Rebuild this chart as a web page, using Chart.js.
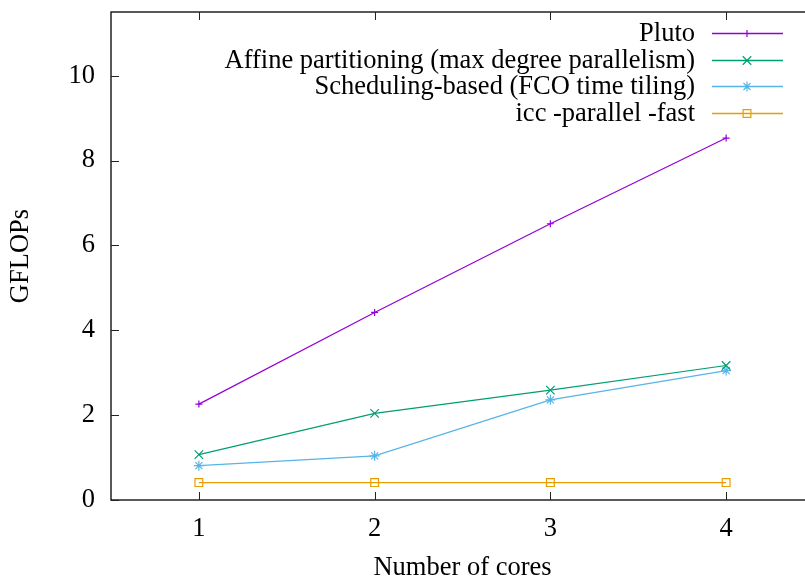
<!DOCTYPE html>
<html>
<head>
<meta charset="utf-8">
<script src="https://cdn.jsdelivr.net/npm/chart.js@4"></script>
<style>
  html, body { margin: 0; padding: 0; background: #fff; overflow: hidden; }
  canvas { display: block; }
</style>
</head>
<body>
<canvas id="grafico" width="830" height="581"></canvas>
<script>
// Dados do gráfico
const cores = [1, 2, 3, 4];
const pluto = [2.26, 4.42, 6.51, 8.53];
const affine = [1.07, 2.04, 2.59, 3.17];
const scheduling = [0.81, 1.04, 2.36, 3.05];
const icc = [0.41, 0.41, 0.41, 0.41];
const seriesNames = [
  'Pluto',
  'Affine partitioning (max degree parallelism)',
  'Scheduling-based (FCO time tiling)',
  'icc -parallel -fast'
];
const xTicks = [1, 2, 3, 4];
const yTicks = [0, 2, 4, 6, 8, 10];

const FONT = "'Liberation Serif', 'Times New Roman', serif";
const FSIZE = 26.5;

function pontos(vals) {
  return cores.map((c, i) => ({ x: c, y: vals[i] }));
}

function serie(label, vals, color, style, radius) {
  return {
    label: label,
    data: pontos(vals),
    borderColor: color,
    backgroundColor: 'rgba(0,0,0,0)',
    borderWidth: 1.2,
    pointStyle: style,
    pointRadius: radius,
    pointBorderColor: color,
    pointBackgroundColor: 'rgba(0,0,0,0)',
    pointBorderWidth: 1.2,
    pointHoverRadius: radius,
    fill: false,
    tension: 0
  };
}

// Plugin para desenhar moldura, ticks internos e legenda no estilo gnuplot
const estiloGnuplot = {
  id: 'estiloGnuplot',
  afterDraw(chart) {
    const ctx = chart.ctx;
    const a = chart.chartArea;
    const xs = chart.scales.x;
    const ys = chart.scales.y;
    ctx.save();
    ctx.strokeStyle = '#000';
    ctx.lineWidth = 1.3;
    ctx.strokeRect(a.left, a.top, a.right - a.left, a.bottom - a.top);

    ctx.lineWidth = 1;
    ctx.strokeStyle = '#222';
    xTicks.forEach(v => {
      const px = Math.round(xs.getPixelForValue(v)) + 0.5;
      ctx.beginPath();
      ctx.moveTo(px, a.bottom); ctx.lineTo(px, a.bottom - 8);
      ctx.moveTo(px, a.top); ctx.lineTo(px, a.top + 8);
      ctx.stroke();
    });
    yTicks.forEach(v => {
      const py = Math.round(ys.getPixelForValue(v)) + 0.5;
      ctx.beginPath();
      ctx.moveTo(a.left, py); ctx.lineTo(a.left + 8, py);
      ctx.moveTo(a.right, py); ctx.lineTo(a.right - 8, py);
      ctx.stroke();
    });

    // Legenda
    ctx.font = FSIZE + 'px ' + FONT;
    ctx.textAlign = 'right';
    ctx.textBaseline = 'middle';
    chart.data.datasets.forEach((ds, i) => {
      const y = Math.round(33 + i * 26.5) + 0.5;
      ctx.fillStyle = '#000';
      ctx.fillText(ds.label, 695, y + 1);
      ctx.strokeStyle = ds.borderColor;
      ctx.lineWidth = 1.5;
      ctx.beginPath();
      ctx.moveTo(712, y);
      ctx.lineTo(783, y);
      ctx.stroke();
      ctx.fillStyle = 'rgba(0,0,0,0)';
      ctx.strokeStyle = ds.borderColor;
      ctx.lineWidth = 1.2;
      Chart.helpers.drawPoint(ctx, {
        pointStyle: ds.pointStyle,
        radius: ds.pointRadius,
        rotation: 0,
        borderWidth: 1.2
      }, 747, y);
    });
    ctx.restore();
  }
};

new Chart(document.getElementById('grafico').getContext('2d'), {
  type: 'line',
  data: {
    datasets: [
      serie(seriesNames[0], pluto, '#9400d3', 'cross', 3.5),
      serie(seriesNames[1], affine, '#009e73', 'crossRot', 6),
      serie(seriesNames[2], scheduling, '#56b4e9', 'star', 5),
      serie(seriesNames[3], icc, '#e69f00', 'rect', 5.5)
    ]
  },
  options: {
    responsive: false,
    animation: false,
    layout: { padding: { top: 12, right: 16, left: 0, bottom: 0 } },
    plugins: {
      legend: { display: false },
      tooltip: { enabled: false }
    },
    scales: {
      x: {
        type: 'linear',
        min: 0.5,
        max: 4.5,
        afterBuildTicks: s => { s.ticks = xTicks.map(v => ({ value: v })); },
        afterFit: s => { s.height = 81; s.paddingLeft = 0; s.paddingRight = 0; },
        grid: { display: false, drawTicks: false },
        border: { display: false },
        ticks: { padding: 13, color: '#000', font: { family: FONT, size: FSIZE } },
        title: {
          display: true,
          text: 'Number of cores',
          color: '#000',
          font: { family: FONT, size: FSIZE },
          padding: { top: 0, bottom: -3 }
        }
      },
      y: {
        type: 'linear',
        min: 0,
        max: 11.5,
        afterBuildTicks: s => { s.ticks = yTicks.map(v => ({ value: v })); },
        afterFit: s => { s.width = 111; s.paddingTop = 0; s.paddingBottom = 0; },
        grid: { display: false, drawTicks: false },
        border: { display: false },
        ticks: { padding: 16, color: '#000', font: { family: FONT, size: FSIZE } },
        title: {
          display: true,
          text: 'GFLOPs',
          color: '#000',
          font: { family: FONT, size: FSIZE },
          padding: { top: 5, bottom: 0 }
        }
      }
    }
  },
  plugins: [estiloGnuplot]
});
</script>
</body>
</html>
